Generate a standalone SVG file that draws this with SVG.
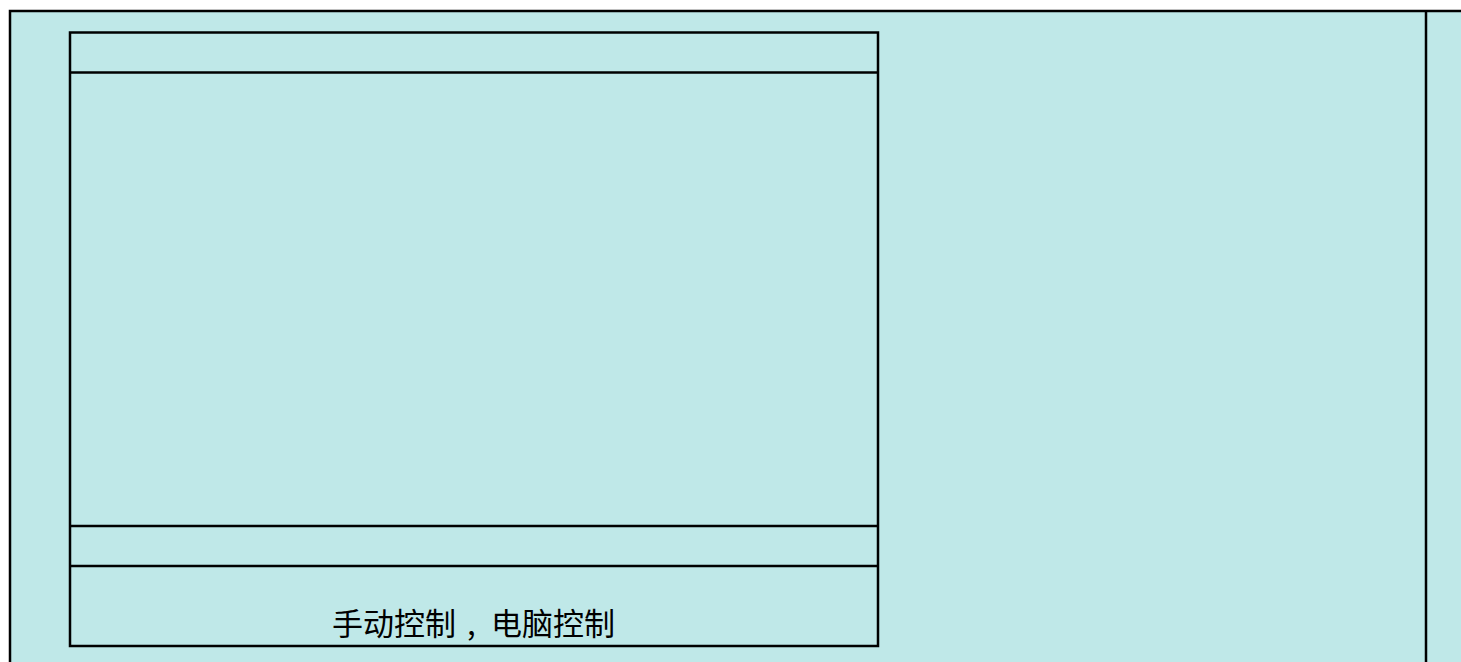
<svg xmlns="http://www.w3.org/2000/svg" width="1461" height="662" viewBox="0 0 1461 662">
<style>
.ln{fill:none;stroke:#000;stroke-width:2.5}
.lbl{font-family:"Noto Sans CJK SC","Noto Sans",sans-serif;font-size:31px;fill:#000}
</style>
<rect x="0" y="0" width="1461" height="662" fill="#fff"/>
<g id="frame">
<rect x="10" y="11" width="1500" height="700" fill="#bfe8e8" stroke="#000" stroke-width="2.5"/>
<line class="ln" x1="1426" y1="11" x2="1426" y2="662"/>
</g>
<g id="panel">
<rect class="ln" x="70" y="32.5" width="808" height="613.5"/>
<line class="ln" x1="70" y1="72.5" x2="878" y2="72.5"/>
<line class="ln" x1="70" y1="526" x2="878" y2="526"/>
<line class="ln" x1="70" y1="566" x2="878" y2="566"/>
<text class="lbl" y="635"><tspan x="332">手动控制</tspan><tspan x="467">,</tspan><tspan x="491">电脑控制</tspan></text>
</g>
<g id="connectors"></g>
</svg>
